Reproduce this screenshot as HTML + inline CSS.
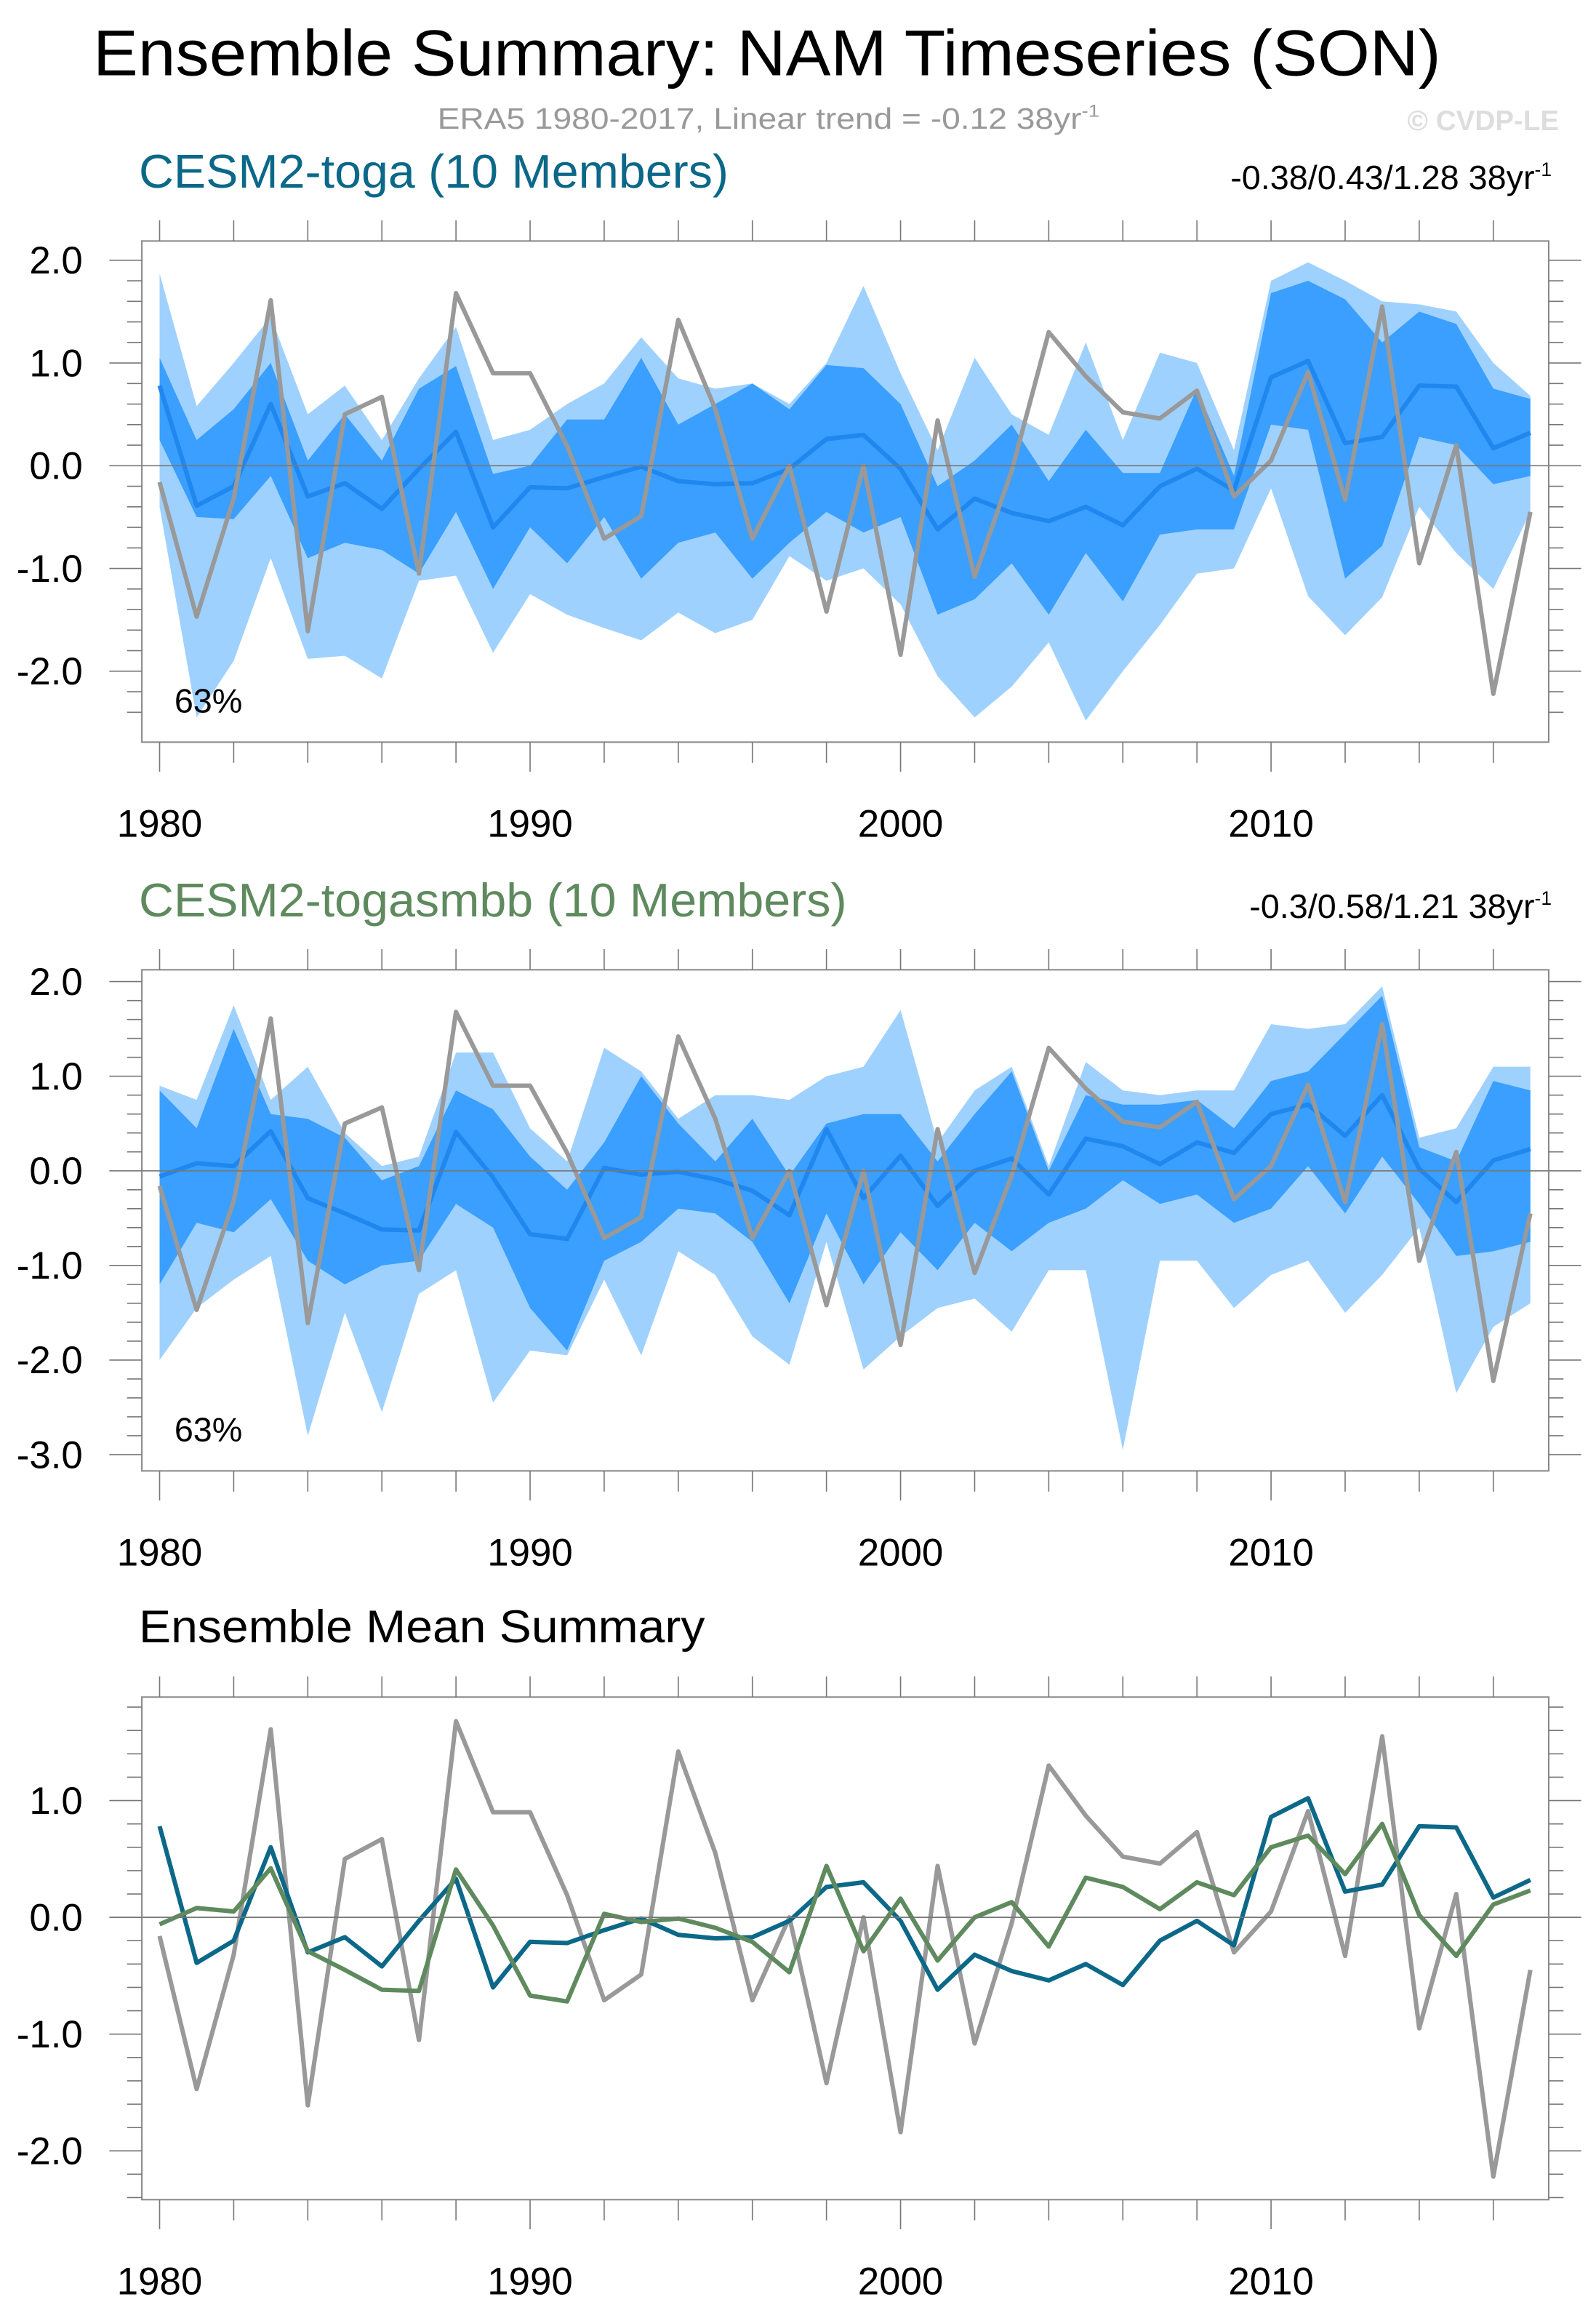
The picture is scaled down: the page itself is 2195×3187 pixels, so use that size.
<!DOCTYPE html>
<html><head><meta charset="utf-8"><style>
html,body{margin:0;padding:0;background:#fff}
svg{display:block}
text{font-family:"Liberation Sans",sans-serif}
</style></head><body>
<svg id="chart" width="2195" height="3187" viewBox="0 0 1080 1568" xmlns="http://www.w3.org/2000/svg">
<text x="519" y="51" font-size="44" text-anchor="middle" fill="#000" textLength="912" lengthAdjust="spacingAndGlyphs">Ensemble Summary: NAM Timeseries (SON)</text>
<text x="520" y="87" font-size="20" text-anchor="middle" fill="#999" textLength="448" lengthAdjust="spacingAndGlyphs">ERA5 1980-2017, Linear trend = -0.12 38yr<tspan dy="-8" font-size="12">-1</tspan></text>
<text x="1055" y="88" font-size="19" font-weight="bold" text-anchor="end" fill="#ddd">© CVDP-LE</text>
<g id="g"></g>
</svg>
<script>
const years=[];for(let y=1980;y<=2017;y++)years.push(y);
const era5=[-0.16,-1.47,-0.32,1.61,-1.61,0.5,0.67,-1.05,1.68,0.9,0.9,0.19,-0.71,-0.49,1.42,0.55,-0.71,0.0,-1.42,0.0,-1.84,0.44,-1.08,-0.05,1.3,0.87,0.52,0.46,0.73,-0.3,0.05,0.91,-0.33,1.55,-0.95,0.2,-2.22,-0.45];
const togaMean=[0.78,-0.39,-0.2,0.6,-0.3,-0.17,-0.42,-0.03,0.33,-0.6,-0.21,-0.22,-0.11,-0.01,-0.15,-0.18,-0.17,-0.03,0.26,0.3,-0.03,-0.62,-0.32,-0.46,-0.54,-0.4,-0.58,-0.2,-0.03,-0.24,0.86,1.02,0.22,0.28,0.78,0.77,0.17,0.32];
const togaMax=[1.87,0.58,1.0,1.45,0.5,0.78,0.25,0.85,1.35,0.25,0.35,0.6,0.8,1.25,0.85,0.75,0.8,0.6,1.0,1.75,0.9,0.15,1.05,0.5,0.3,1.2,0.25,1.1,1.0,0.15,1.8,1.98,1.8,1.6,1.57,1.5,1.0,0.68];
const togaMin=[-0.4,-2.45,-1.9,-0.9,-1.88,-1.85,-2.07,-1.12,-1.07,-1.82,-1.25,-1.45,-1.58,-1.7,-1.43,-1.63,-1.5,-0.88,-1.12,-1.0,-1.35,-2.05,-2.45,-2.15,-1.72,-2.48,-2.0,-1.55,-1.05,-1.0,-0.22,-1.27,-1.65,-1.28,-0.4,-0.85,-1.2,-0.45];
const togaHi=[1.05,0.25,0.55,1.0,0.05,0.5,0.05,0.75,0.97,-0.08,0.0,0.45,0.45,1.05,0.4,0.6,0.8,0.55,0.98,0.95,0.6,-0.2,0.05,0.4,-0.15,0.35,-0.07,-0.07,0.75,-0.1,1.68,1.8,1.62,1.2,1.5,1.38,0.75,0.65];
const togaLo=[0.25,-0.5,-0.52,-0.1,-0.9,-0.75,-0.82,-1.05,-0.45,-1.2,-0.6,-0.95,-0.5,-1.1,-0.75,-0.65,-1.1,-0.75,-0.45,-0.65,-0.5,-1.45,-1.3,-0.95,-1.45,-0.85,-1.32,-0.67,-0.62,-0.62,0.4,0.35,-1.1,-0.78,0.28,0.2,-0.18,-0.1];
const smbbMean=[-0.06,0.08,0.05,0.42,-0.29,-0.45,-0.62,-0.63,0.41,-0.07,-0.67,-0.72,0.03,-0.04,-0.01,-0.09,-0.21,-0.47,0.44,-0.29,0.16,-0.37,0.0,0.13,-0.25,0.34,0.26,0.07,0.3,0.19,0.6,0.7,0.37,0.8,0.02,-0.33,0.11,0.23];
const smbbMax=[0.9,0.75,1.75,0.75,1.1,0.4,0.05,0.15,1.25,1.25,0.45,0.1,1.3,1.05,0.55,0.8,0.8,0.75,1.0,1.1,1.7,0.3,0.85,1.1,0.05,1.15,0.85,0.8,0.85,0.85,1.55,1.5,1.55,1.95,0.35,0.45,1.1,1.1];
const smbbMin=[-2.0,-1.45,-1.15,-0.9,-2.8,-1.5,-2.55,-1.3,-1.05,-2.45,-1.9,-1.95,-1.15,-1.95,-0.85,-1.1,-1.75,-2.05,-0.75,-2.1,-1.75,-1.45,-1.35,-1.7,-1.05,-1.05,-2.95,-0.95,-0.95,-1.45,-1.1,-0.95,-1.5,-1.1,-0.6,-2.35,-1.65,-1.4];
const smbbHi=[0.85,0.45,1.5,0.6,0.55,0.35,-0.1,0.05,0.85,0.65,0.15,-0.2,0.3,1.0,0.5,0.1,0.55,-0.05,0.5,0.6,0.6,0.1,0.6,1.05,0.0,0.8,0.7,0.7,0.75,0.45,0.95,1.05,1.45,1.85,0.25,0.1,0.95,0.85];
const smbbLo=[-1.2,-0.55,-0.65,-0.3,-0.95,-1.2,-1.0,-0.95,-0.35,-0.6,-1.45,-1.9,-0.95,-0.75,-0.4,-0.45,-0.75,-1.4,-0.45,-1.2,-0.65,-1.05,-0.55,-0.85,-0.55,-0.4,-0.1,-0.35,-0.25,-0.55,-0.4,0.05,-0.45,0.15,-0.35,-0.9,-0.85,-0.75];
const yTicks1=[-2,-1,0,1,2], yTicks2=[-3,-2,-1,0,1,2], yTicks3=[-2,-1,0,1];
const xLabels=[1980,1990,2000,2010];

const NS="http://www.w3.org/2000/svg";
const G=document.getElementById('g');
function el(t,a,p){const e=document.createElementNS(NS,t);for(const k in a)e.setAttribute(k,a[k]);(p||G).appendChild(e);return e;}
const X0=96,X1=1048;
function xs(yr){return 108+(yr-1980)*25.07;}

function panel(name,top,bot,zeroY,ppu,yMinV,yMaxV,ticks){
  const ys=v=>zeroY-v*ppu;
  const g=el('g',{});
  
  
  return {g,ys,top,bot,yMinV,yMaxV,ticks};
}
function axes(P){
  const {g,ys,top,bot}=P;
  const z=el('line',{x1:X0,x2:X1,y1:ys(0),y2:ys(0),stroke:'#777','stroke-width':0.8},g);
  
  const b=el('rect',{x:X0,y:top,width:X1-X0,height:bot-top,fill:'none',stroke:'#888','stroke-width':1},g);
  
  for(let v=Math.ceil(P.yMinV*5);v<=Math.floor(P.yMaxV*5);v++){
    const yy=ys(v/5); if(yy<top||yy>bot)continue;
    const major=v%5===0;
    el('line',{x1:X0-(major?22:10),x2:X0,y1:yy,y2:yy,stroke:'#777','stroke-width':0.8},g);
    el('line',{x1:X1,x2:X1+(major?22:10),y1:yy,y2:yy,stroke:'#777','stroke-width':0.8},g);
  }
  P.ticks.forEach(v=>{
    const t=el('text',{x:56,y:ys(v)+9,'font-size':26,'text-anchor':'end',fill:'#000'},g);
    t.textContent=v.toFixed(1);
    
  });
  for(let yr=1980;yr<=2017;yr+=2){
    const major=(yr%10===0);
    el('line',{x1:xs(yr),x2:xs(yr),y1:bot,y2:bot+(major?20:14),stroke:'#777','stroke-width':0.8},g);
    el('line',{x1:xs(yr),x2:xs(yr),y1:top,y2:top-14,stroke:'#777','stroke-width':0.8},g);
  }
  xLabels.forEach(yr=>{
    const t=el('text',{x:xs(yr),y:bot+64,'font-size':26,'text-anchor':'middle',fill:'#000'},g);
    t.textContent=yr;
    
  });
}
function band(P,hi,lo,fill,nm){
  let d='M'+years.map((y,i)=>xs(y)+','+P.ys(hi[i])).join('L');
  for(let i=years.length-1;i>=0;i--)d+='L'+xs(years[i])+','+P.ys(lo[i]);
  const p=el('path',{d:d+'Z',fill},P.g);
  
}
function line(P,vals,col,w,nm){
  const p=el('polyline',{points:years.map((y,i)=>xs(y)+','+P.ys(vals[i])).join(' '),fill:'none',stroke:col,'stroke-width':w,'stroke-linejoin':'round'},P.g);
  
}
function label(txt,x,y,size,col,anchor,nm,len){
  const a={x,y,'font-size':size,fill:col,'text-anchor':anchor||'start'};
  if(len){a.textLength=len;a.lengthAdjust='spacingAndGlyphs';}
  const t=el('text',a);
  t.innerHTML=txt;
  
}
const P1=panel('toga-panel',163,502,315,69.5,-2.4,2.2,yTicks1);
band(P1,togaMax,togaMin,'#9fd1ff','toga-minmax-band');
band(P1,togaHi,togaLo,'#3a9fff','toga-percentile-band');
line(P1,togaMean,'#1f87ee',3,'toga-ensemble-mean');
line(P1,era5,'#999',3,'era5-line');
axes(P1);
label('CESM2-toga (10 Members)',94,127,32,'#0c6888','start','toga-title',399);
label('-0.38/0.43/1.28 38yr<tspan dy="-9" font-size="13">-1</tspan>',1050,128,23,'#000','end','toga-trend-stats');
label('63%',118,482,23,'#000','start','toga-percent-label');
const P2=panel('togasmbb-panel',656,995,792,64,-3.2,2.1,yTicks2);
band(P2,smbbMax,smbbMin,'#9fd1ff','togasmbb-minmax-band');
band(P2,smbbHi,smbbLo,'#3a9fff','togasmbb-percentile-band');
line(P2,smbbMean,'#1f87ee',3,'togasmbb-ensemble-mean');
line(P2,era5,'#999',3,'era5-line');
axes(P2);
label('CESM2-togasmbb (10 Members)',94,620,32,'#5e8a5e','start','togasmbb-title',479);
label('-0.3/0.58/1.21 38yr<tspan dy="-9" font-size="13">-1</tspan>',1050,621,23,'#000','end','togasmbb-trend-stats');
label('63%',118,975,23,'#000','start','togasmbb-percent-label');
const P3=panel('ensemble-mean-panel',1148,1488,1297,79,-2.4,1.9,yTicks3);
line(P3,era5,'#999',3,'era5-line');
line(P3,togaMean,'#0c6888',3,'toga-mean-line');
line(P3,smbbMean,'#5e8a5e',3,'togasmbb-mean-line');
axes(P3);
label('Ensemble Mean Summary',94,1111,31,'#000','start','ensemble-mean-title',383);
</script>
</body></html>
